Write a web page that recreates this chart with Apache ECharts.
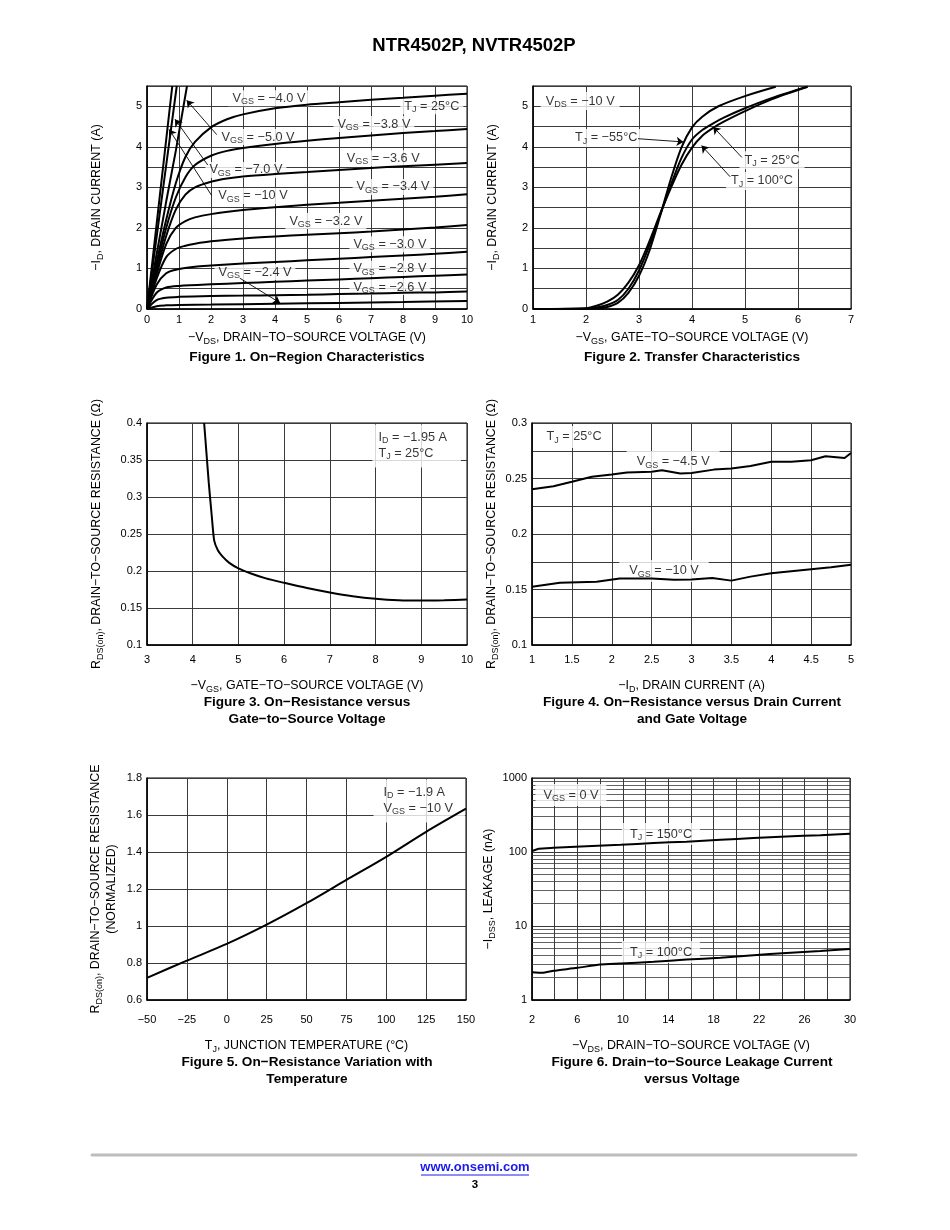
<!DOCTYPE html>
<html><head><meta charset="utf-8">
<script src="https://cdn.jsdelivr.net/npm/echarts@6/dist/echarts.min.js"></script>
<style>html,body{margin:0;padding:0;background:#fff}#c{width:950px;height:1230px}</style>
</head><body><div id="c"></div>
<script>
// ---------- Figure 1: On-region characteristics ([-VDS, -ID]) ----------
const f1Vgs10 = [[0,0],[0.2,1.39],[0.4,2.79],[0.6,4.18],[0.79,5.5]];
const f1Vgs7  = [[0,0],[0.3,1.77],[0.6,3.55],[0.93,5.5]];
const f1Vgs5  = [[0,0],[0.3,1.35],[0.6,2.65],[0.9,3.9],[1.25,5.5]];
const f1Vgs40 = [[0,0],[0.3,1.15],[0.6,2.2],[0.9,3.1],[1.2,3.75],[1.5,4.12],[2,4.48],[2.5,4.68],[3,4.8],[4,4.95],[5,5.04],[6,5.1],[7,5.16],[8,5.21],[9,5.26],[10,5.31]];
const f1Vgs38 = [[0,0],[0.3,1.05],[0.6,2.0],[0.9,2.75],[1.2,3.25],[1.5,3.55],[2,3.78],[2.5,3.9],[3,3.97],[4,4.07],[5,4.15],[6,4.22],[7,4.28],[8,4.34],[9,4.39],[10,4.44]];
const f1Vgs36 = [[0,0],[0.3,0.95],[0.6,1.8],[0.9,2.45],[1.2,2.82],[1.5,3.0],[2,3.14],[2.5,3.22],[3,3.27],[4,3.33],[5,3.38],[6,3.43],[7,3.48],[8,3.52],[9,3.56],[10,3.6]];
const f1Vgs34 = [[0,0],[0.3,0.85],[0.6,1.6],[0.9,2.0],[1.2,2.17],[1.5,2.26],[2,2.34],[3,2.44],[4,2.51],[5,2.57],[6,2.62],[7,2.67],[8,2.72],[9,2.77],[10,2.83]];
const f1Vgs32 = [[0,0],[0.3,0.75],[0.6,1.28],[0.9,1.48],[1.2,1.56],[1.5,1.61],[2,1.67],[3,1.74],[4,1.79],[5,1.83],[6,1.87],[7,1.91],[8,1.96],[9,2.01],[10,2.07]];
const f1Vgs30 = [[0,0],[0.3,0.6],[0.6,0.88],[0.9,0.97],[1.5,1.04],[2,1.07],[3,1.12],[4,1.16],[5,1.2],[6,1.24],[7,1.28],[8,1.32],[9,1.36],[10,1.41]];
const f1Vgs28 = [[0,0],[0.3,0.4],[0.6,0.53],[1,0.57],[2,0.61],[3,0.64],[4,0.67],[5,0.7],[6,0.73],[7,0.76],[8,0.79],[9,0.82],[10,0.85]];
const f1Vgs26 = [[0,0],[0.3,0.22],[0.6,0.28],[1,0.3],[2,0.32],[3,0.33],[4,0.34],[5,0.35],[6,0.37],[7,0.38],[8,0.4],[9,0.41],[10,0.43]];
const f1Vgs24 = [[0,0],[0.3,0.07],[0.6,0.09],[1,0.1],[2,0.11],[4,0.13],[6,0.15],[8,0.17],[10,0.2]];

// ---------- Figure 2: Transfer characteristics ([-VGS, -ID]) ----------
const f2Tm55 = [[1,0],[2,0],[2.2,0.01],[2.4,0.05],[2.6,0.15],[2.8,0.4],[3,0.82],[3.2,1.45],[3.4,2.3],[3.6,3.2],[3.8,3.98],[4,4.48],[4.2,4.75],[4.5,5.0],[5,5.25],[5.58,5.48]];
const f2T25  = [[1,0],[2,0.01],[2.2,0.04],[2.4,0.1],[2.6,0.22],[2.8,0.5],[3,0.95],[3.2,1.58],[3.4,2.33],[3.6,3.05],[3.8,3.72],[4,4.18],[4.2,4.42],[4.4,4.58],[4.6,4.72],[5,4.95],[5.5,5.2],[6.18,5.48]];
const f2T100 = [[1,0],[2,0.02],[2.2,0.08],[2.4,0.18],[2.6,0.35],[2.8,0.65],[3,1.08],[3.2,1.68],[3.4,2.35],[3.6,2.98],[3.8,3.55],[4,3.98],[4.2,4.28],[4.4,4.47],[4.6,4.62],[5,4.88],[5.5,5.17],[6.18,5.48]];

// ---------- Figure 3: RDS(on) vs VGS ----------
const f3Vgs = [4.25,4.3,4.35,4.42,4.47,4.55,4.64,4.8,5.0,5.26,5.6,6.0,6.5,7.0,7.5,8.0,8.5,9.0,9.5,10];
const f3R   = [0.4,0.36,0.32,0.272,0.241,0.228,0.2205,0.211,0.2036,0.197,0.19,0.184,0.177,0.171,0.166,0.1625,0.1605,0.160,0.1605,0.1615];

// ---------- Figure 4: RDS(on) vs ID ----------
const f4Id45   = [1,1.27,1.5,1.75,2,2.19,2.5,2.63,2.86,3,3.28,3.5,3.74,4,4.25,4.5,4.68,4.92,5];
const f4Vgs45  = [0.2404,0.243,0.247,0.2515,0.2536,0.2554,0.256,0.2575,0.2545,0.255,0.258,0.259,0.2613,0.265,0.265,0.2664,0.27,0.2685,0.273];
const f4Id10   = [1,1.35,1.81,2.1,2.5,2.78,3,3.26,3.5,3.74,4,4.25,4.5,4.75,5];
const f4Vgs10  = [0.1524,0.156,0.1569,0.1599,0.1599,0.1587,0.159,0.1604,0.158,0.1616,0.1646,0.1664,0.1682,0.17,0.1724];

// ---------- Figure 5: normalized RDS(on) vs TJ ----------
const f5T = [-50,-25,0,25,50,75,100,125,150];
const f5R = [0.72,0.813,0.903,1.007,1.123,1.249,1.374,1.509,1.634];

// ---------- Figure 6: IDSS leakage vs VDS ----------
const f6V150 = [2,2.6,3.9,6.8,9.8,12.7,15.6,18.6,21.5,24.4,27.4,30];
const f6I150 = [103,110.9,114,120,125,132,138,146,154,162,169,176];
const f6V100 = [2,2.9,3.9,6,8,9.8,12.7,15.6,18.6,21.5,24.4,27.4,30];
const f6I100 = [2.38,2.33,2.48,2.72,3.02,3.11,3.28,3.52,3.71,4.03,4.33,4.6,4.9];

// ---------- annotation texts ----------
const f1Notes = [[3.81,5.2,'V{s|GS} = −4.0 V'],[8.9,5.0,'T{s|J} = 25°C'],[7.09,4.56,'V{s|GS} = −3.8 V'],
  [3.47,4.24,'V{s|GS} = −5.0 V'],[3.09,3.43,'V{s|GS} = −7.0 V'],[3.31,2.79,'V{s|GS} = −10 V'],
  [7.38,3.72,'V{s|GS} = −3.6 V'],[7.69,3.01,'V{s|GS} = −3.4 V'],[5.59,2.17,'V{s|GS} = −3.2 V'],
  [7.59,1.6,'V{s|GS} = −3.0 V'],[7.59,0.99,'V{s|GS} = −2.8 V'],[3.375,0.91,'V{s|GS} = −2.4 V'],[7.59,0.54,'V{s|GS} = −2.6 V']];
const f1Arrows = [[2.18,4.3,1.24,5.15],[1.9,3.55,0.875,4.68],[2.02,2.8,0.69,4.43],[2.9,0.76,4.16,0.15]];
const f2Notes = [[1.89,5.13,'V{s|DS} = −10 V'],[2.38,4.22,'T{s|J} = −55°C'],[5.51,3.67,'T{s|J} = 25°C'],[5.32,3.16,'T{s|J} = 100°C']];
const f2Arrows = [[2.98,4.2,3.84,4.12],[4.94,3.74,4.40,4.49],[4.72,3.26,4.18,4.03]];
const f3Notes = [[7.92,0.369,'I{s|D} = −1.95 A\nT{s|J} = 25°C']];
const f4Notes = [[1.527,0.2874,'T{s|J} = 25°C'],[2.77,0.2649,'V{s|GS} = −4.5 V'],[2.655,0.1667,'V{s|GS} = −10 V']];
const f5Notes = [[91.7,1.676,'I{s|D} = −1.9 A\nV{s|GS} = −10 V']];
const f6Notes = [[5.43,589,'V{s|GS} = 0 V'],[13.36,175,'T{s|J} = 150°C'],[13.36,4.45,'T{s|J} = 100°C']];

const FONT = '"Liberation Sans", Arial, Helvetica, sans-serif';
const SUB = { s: { fontSize: 9, verticalAlign: 'bottom', fontFamily: FONT, color: '#000' } };
const GRIDC = '#3a3a3a';

const grids = [
  {left:147, top:86, width:320, height:223},
  {left:533, top:86, width:318, height:223},
  {left:147, top:423, width:320, height:222},
  {left:532, top:423, width:319, height:222},
  {left:147, top:778, width:319, height:222},
  {left:532, top:778, width:318, height:222}
].map(g => Object.assign({show:true, borderColor:'#000', borderWidth:1, backgroundColor:'#fff'}, g));

const NAME_STYLE = {color:'#000', fontSize:12.4, fontFamily:FONT, lineHeight:16, rich:SUB};

function xAx(gi, o) {
  return Object.assign({
    type:'value', gridIndex:gi,
    axisLine:{show:true, onZero:false, lineStyle:{color:'#000', width:1.5}},
    axisTick:{show:false},
    splitLine:{show:true, lineStyle:{color:GRIDC, width:1}},
    axisLabel:{color:'#000', fontSize:11, fontFamily:FONT, margin:o.margin, formatter:o.fmt, showMinLabel:true, showMaxLabel:true},
    nameLocation:'middle',
    nameTextStyle:NAME_STYLE
  }, o);
}
function yAx(gi, o) {
  return Object.assign({
    type:'value', gridIndex:gi,
    axisLine:{show:true, onZero:false, lineStyle:{color:'#000', width:1.5}},
    axisTick:{show:false},
    splitLine:{show:true, lineStyle:{color:GRIDC, width:1}},
    axisLabel:{color:'#000', fontSize:11, fontFamily:FONT, margin:5, formatter:o.fmt, showMinLabel:true, showMaxLabel:true},
    nameLocation:'middle', nameRotate:90, nameMoveOverlap:false,
    nameTextStyle:NAME_STYLE
  }, o);
}
const intOnly = v => Math.abs(v - Math.round(v)) < 1e-9 ? String(Math.round(v)) : '';
const minus = v => String(v).replace('-', '−');

const xAxis = [
  xAx(0,{min:0,max:10,interval:1,margin:5,name:'−V{s|DS}, DRAIN−TO−SOURCE VOLTAGE (V)',nameGap:21}),
  xAx(1,{min:1,max:7,interval:1,margin:5,name:'−V{s|GS}, GATE−TO−SOURCE VOLTAGE (V)',nameGap:21}),
  xAx(2,{min:3,max:10,interval:1,margin:9,name:'−V{s|GS}, GATE−TO−SOURCE VOLTAGE (V)',nameGap:33}),
  xAx(3,{min:1,max:5,interval:0.5,margin:9,name:'−I{s|D}, DRAIN CURRENT (A)',nameGap:33}),
  xAx(4,{min:-50,max:150,interval:25,margin:14,fmt:minus,name:'T{s|J}, JUNCTION TEMPERATURE (°C)',nameGap:38}),
  xAx(5,{min:2,max:30,interval:2,margin:14,fmt:v => ((Math.round(v)-2)%4===0 ? String(v) : ''),name:'−V{s|DS}, DRAIN−TO−SOURCE VOLTAGE (V)',nameGap:38})
];
const yAxis = [
  yAx(0,{min:0,max:5.5,interval:0.5,fmt:intOnly,name:'−I{s|D}, DRAIN CURRENT (A)',nameGap:42}),
  yAx(1,{min:0,max:5.5,interval:0.5,fmt:intOnly,name:'−I{s|D}, DRAIN CURRENT (A)',nameGap:32}),
  yAx(2,{min:0.1,max:0.4,interval:0.05,name:'R{s|DS(on)}, DRAIN−TO−SOURCE RESISTANCE (Ω)',nameGap:42}),
  yAx(3,{min:0.1,max:0.3,interval:0.025,fmt:v => {const k=Math.round(v*1000); return k%50===0 ? String(k/1000) : '';},name:'R{s|DS(on)}, DRAIN−TO−SOURCE RESISTANCE (Ω)',nameGap:32}),
  yAx(4,{min:0.6,max:1.8,interval:0.2,name:'R{s|DS(on)}, DRAIN−TO−SOURCE RESISTANCE\n(NORMALIZED)',nameGap:27}),
  Object.assign(yAx(5,{fmt:v => String(Math.round(v)),name:'−I{s|DSS}, LEAKAGE (nA)',nameGap:35}),{type:'log',logBase:10,min:1,max:1000})
];

function curve(gi, data, smooth) {
  return {type:'line', xAxisIndex:gi, yAxisIndex:gi, data, symbol:'none', showSymbol:false,
    smooth: smooth, z:3, lineStyle:{color:'#000', width:2}, silent:true};
}
const zip = (xs, ys) => xs.map((x,i) => [x, ys[i]]);

function notes(gi, items, labelOpt, arrows, extraMarkLine) {
  const s = {type:'scatter', xAxisIndex:gi, yAxisIndex:gi, z:1, symbolSize:1, silent:true,
    itemStyle:{color:'rgba(0,0,0,0)'},
    data: items.map(n => ({value:[n[0], n[1]], name:n[2]})),
    label: Object.assign({show:true, formatter:p => p.name, position:'inside', color:'#000',
      fontSize:12.7, fontFamily:FONT, lineHeight:16, backgroundColor:'#fff', padding:[1,4,1,4], rich:SUB}, labelOpt||{})
  };
  if (arrows) {
    s.markLine = {silent:true, symbol:['none','arrow'], symbolSize:7, animation:false,
      label:{show:false}, lineStyle:{color:'#000', width:0.9, type:'solid'},
      data: arrows.map(a => [{coord:[a[0],a[1]]},{coord:[a[2],a[3]]}])};
  }
  if (extraMarkLine) s.markLine = extraMarkLine;
  return s;
}

// minor log gridlines for Fig. 6 (values 2..9 per decade)
const logMinor = [];
[1,10,100].forEach(d => { for (let k=2;k<=9;k++) logMinor.push(k*d); });

const series = [
  curve(0,f1Vgs10,false), curve(0,f1Vgs7,false), curve(0,f1Vgs5,false),
  curve(0,f1Vgs40,0.3), curve(0,f1Vgs38,0.3), curve(0,f1Vgs36,0.3), curve(0,f1Vgs34,0.3),
  curve(0,f1Vgs32,0.3), curve(0,f1Vgs30,0.3), curve(0,f1Vgs28,0.3), curve(0,f1Vgs26,0.3), curve(0,f1Vgs24,0.3),
  notes(0, f1Notes, {padding:[0,4,0,4]}, f1Arrows),
  curve(1,f2Tm55,0.3), curve(1,f2T25,0.3), curve(1,f2T100,0.3),
  notes(1, f2Notes, {padding:[1,5,1,5]}, f2Arrows),
  curve(2,zip(f3Vgs,f3R),0.2),
  notes(2, f3Notes, {position:'right', distance:0, align:'left', padding:[5,14,6,6]}),
  curve(3,zip(f4Id45,f4Vgs45),false), curve(3,zip(f4Id10,f4Vgs10),false),
  notes(3, f4Notes, {padding:[3,10,3,10]}),
  curve(4,zip(f5T,f5R),0.3),
  notes(4, f5Notes, {position:'right', distance:0, align:'left', padding:[5,12,6,10]}),
  curve(5,zip(f6V150,f6I150),0.2), curve(5,zip(f6V100,f6I100),0.2),
  notes(5, f6Notes, {padding:[3,8,3,8]}, null, {silent:true, symbol:['none','none'], z:0.5, animation:false,
    label:{show:false}, lineStyle:{color:GRIDC, width:0.8, type:'solid'}, data: logMinor.map(v => ({yAxis:v}))})
];

const cap = (x, y, t) => ({type:'text', x, y, silent:true,
  style:{text:t, font:'bold 13.6px '+FONT, fill:'#000', align:'center', textAlign:'center', verticalAlign:'middle', textVerticalAlign:'middle', lineHeight:17}});

const graphic = [
  {type:'text', x:474, y:46, silent:true, style:{text:'NTR4502P, NVTR4502P', font:'bold 18.5px '+FONT, fill:'#000', align:'center', textAlign:'center', verticalAlign:'middle', textVerticalAlign:'middle'}},
  cap(307, 357, 'Figure 1. On−Region Characteristics'),
  cap(692, 357, 'Figure 2. Transfer Characteristics'),
  cap(307, 711, 'Figure 3. On−Resistance versus\nGate−to−Source Voltage'),
  cap(692, 711, 'Figure 4. On−Resistance versus Drain Current\nand Gate Voltage'),
  cap(307, 1071, 'Figure 5. On−Resistance Variation with\nTemperature'),
  cap(692, 1071, 'Figure 6. Drain−to−Source Leakage Current\nversus Voltage'),
  {type:'line', silent:true, shape:{x1:92, y1:1155, x2:856, y2:1155}, style:{stroke:'#bdbdbd', lineWidth:3, lineCap:'round'}},
  {type:'text', x:475, y:1167, silent:true, style:{text:'www.onsemi.com', font:'bold 13px "Liberation Sans", Arial, sans-serif', fill:'#1a1aee', align:'center', textAlign:'center', verticalAlign:'middle', textVerticalAlign:'middle'}},
  {type:'line', silent:true, shape:{x1:421, y1:1175, x2:529, y2:1175}, style:{stroke:'#1a1aee', lineWidth:1}},
  {type:'text', x:475, y:1185, silent:true, style:{text:'3', font:'bold 11.5px '+FONT, fill:'#000', align:'center', textAlign:'center', verticalAlign:'middle', textVerticalAlign:'middle'}}
];

const chart = echarts.init(document.getElementById('c'), null, {renderer:'canvas'});
chart.setOption({animation:false, backgroundColor:'#fff', grid:grids, xAxis, yAxis, series, graphic});
</script>
</body></html>
